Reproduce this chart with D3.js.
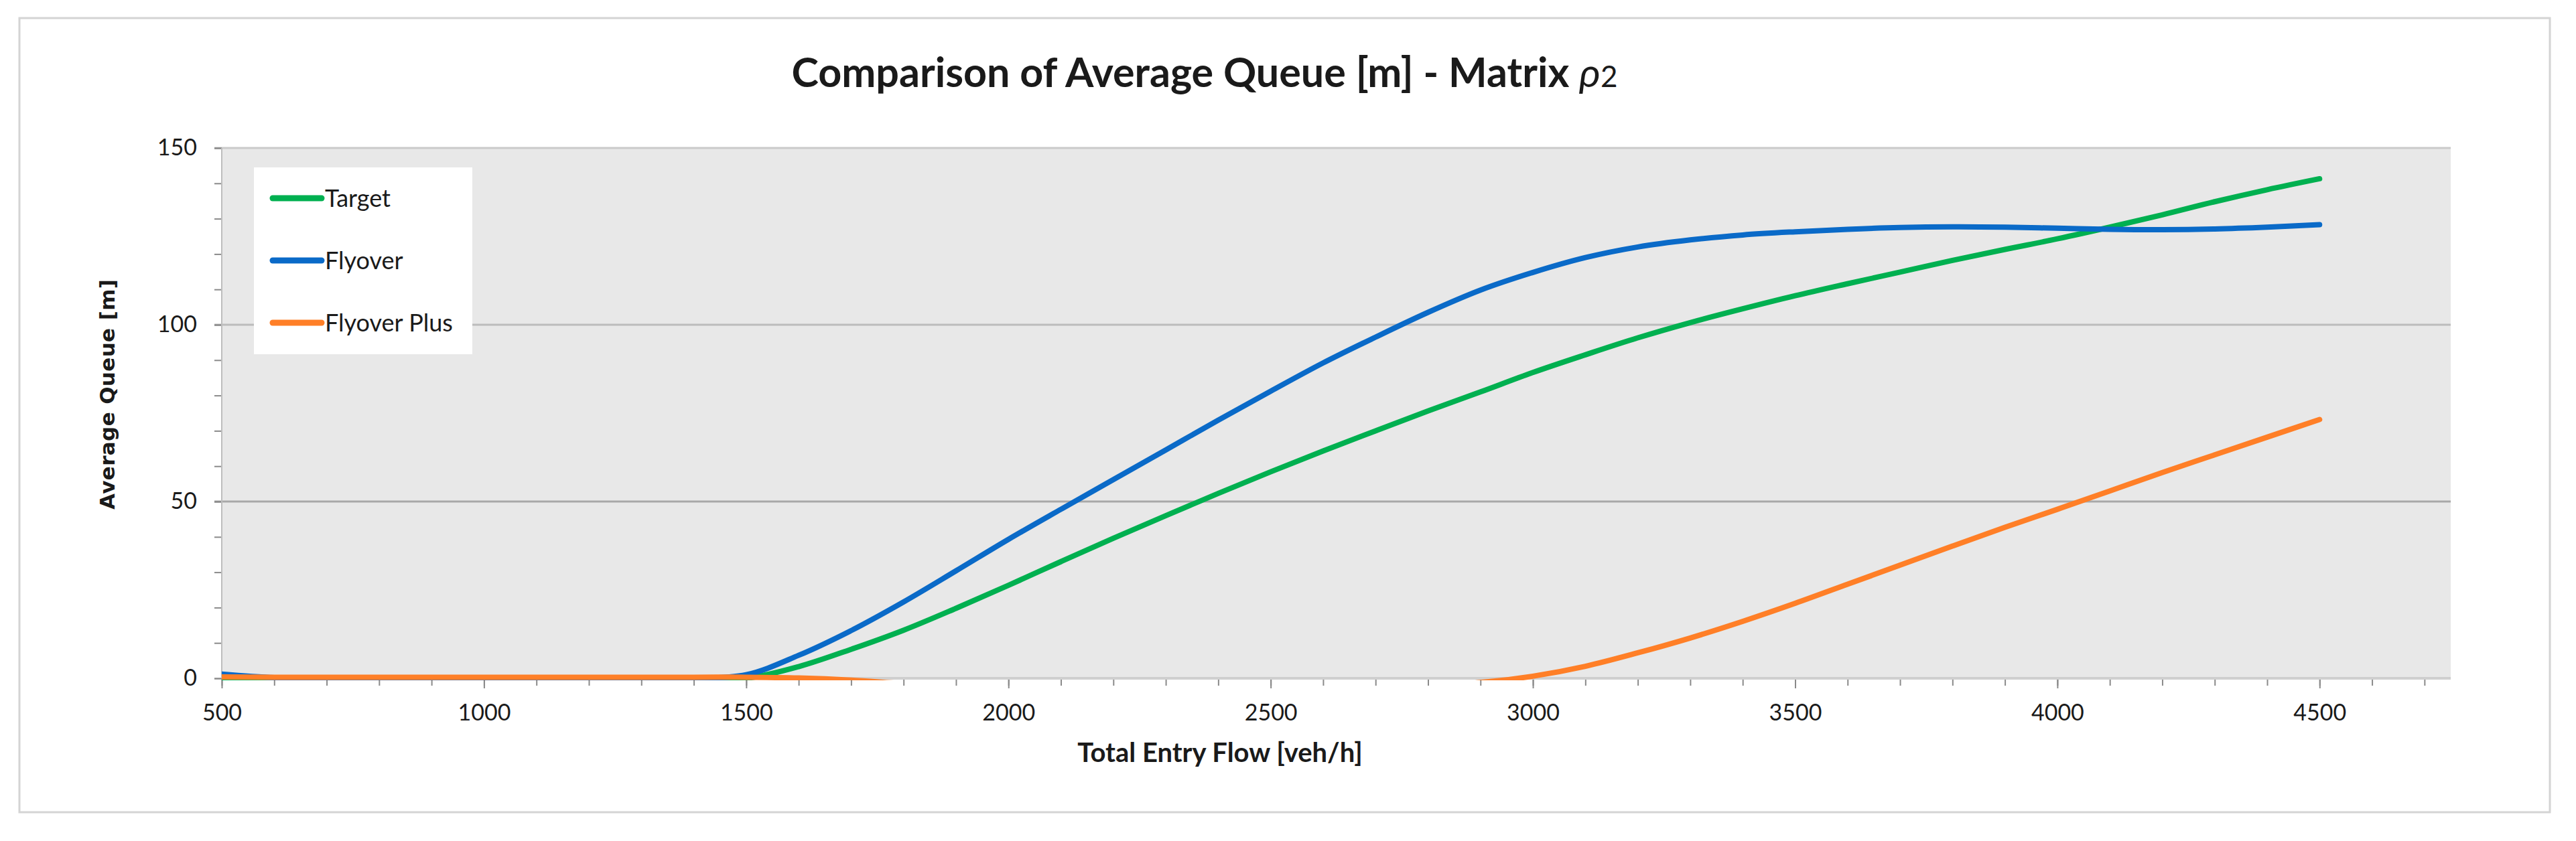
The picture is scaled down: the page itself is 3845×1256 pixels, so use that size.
<!DOCTYPE html>
<html>
<head>
<meta charset="utf-8">
<title>Comparison of Average Queue</title>
<script src="https://cdn.jsdelivr.net/npm/d3@7"></script>
<style>
  body { margin: 0; background: #fff; }
  svg { display: block; }
  text { font-family: Lato, "Open Sans", sans-serif; fill: #1a1a1a; }
</style>
</head>
<body>
<div id="chart"></div>
<script>
// flow values (veh/h) and the three queue series
var flow = [500, 600, 700, 800, 900, 1000, 1100, 1200, 1300, 1400,
  1500, 1600, 1700, 1800, 1900, 2000, 2100, 2200, 2300, 2400,
  2500, 2600, 2700, 2800, 2900, 3000, 3100, 3200, 3300, 3400,
  3500, 3600, 3700, 3800, 3900, 4000, 4100, 4200, 4300, 4400, 4500];

var target = [0, 0, 0, 0, 0, 0, 0, 0, 0, 0,
  0, 3.3, 8.2, 13.6, 19.8, 26.3, 33.0, 39.6, 46.0, 52.3,
  58.4, 64.3, 70.0, 75.6, 81.0, 86.5, 91.5, 96.3, 100.6, 104.5,
  108.2, 111.6, 114.9, 118.2, 121.3, 124.3, 127.6, 131.1, 134.8, 138.2, 141.3];

var flyover = [1.2, 0.2, 0, 0, 0, 0, 0, 0, 0, 0,
  1.0, 6.5, 13.5, 21.6, 30.4, 39.3, 47.8, 56.2, 64.6, 73.0,
  81.2, 89.2, 96.5, 103.5, 109.8, 114.8, 119.0, 122.0, 124.0, 125.4,
  126.3, 127.0, 127.5, 127.7, 127.6, 127.3, 127.0, 126.9, 127.1, 127.6, 128.3];

// the smoothed excel line dips under the axis between ~1700 and ~2900
var flyoverPlus = [0.4, 0.3, 0.3, 0.3, 0.3, 0.3, 0.3, 0.3, 0.3, 0.3,
  0.3, 0.1, -0.5, -1.5, -2.2, -2.6, -2.8, -2.8, -2.8, -2.8,
  -2.7, -2.6, -2.4, -2.0, -1.2, 0.6, 3.4, 7.2, 11.4, 16.1,
  21.2, 26.6, 32.0, 37.4, 42.7, 47.8, 53.0, 58.2, 63.2, 68.2, 73.2];

var seriesNames = ["Target", "Flyover", "Flyover Plus"];
var seriesColors = ["#00b050", "#0a6ac8", "#ff7f27"];
var seriesValues = [target, flyover, flyoverPlus];

var xMinorTicks = [500, 600, 700, 800, 900, 1000, 1100, 1200, 1300, 1400, 1500, 1600,
  1700, 1800, 1900, 2000, 2100, 2200, 2300, 2400, 2500, 2600, 2700, 2800, 2900, 3000,
  3100, 3200, 3300, 3400, 3500, 3600, 3700, 3800, 3900, 4000, 4100, 4200, 4300, 4400,
  4500, 4600, 4700];
var xMajorTicks = [500, 1000, 1500, 2000, 2500, 3000, 3500, 4000, 4500];
var yMinorTicks = [0, 10, 20, 30, 40, 50, 60, 70, 80, 90, 100, 110, 120, 130, 140, 150];
var yMajorTicks = [0, 50, 100, 150];

var W = 3845, H = 1256;
var plotL = 331, plotR = 3658, plotT = 221, plotB = 1013;

var svg = d3.select("#chart").append("svg")
  .attr("width", W)
  .attr("height", H);

// outer frame
svg.append("rect")
  .attr("x", 29).attr("y", 27)
  .attr("width", 3777).attr("height", 1186)
  .attr("fill", "#fff")
  .attr("stroke", "#d4d4d4")
  .attr("stroke-width", 3);

var x = d3.scaleLinear().domain([500, 4750]).range([plotL, plotR]);
var y = d3.scaleLinear().domain([0, 150]).range([plotB, plotT]);

// plot area
svg.append("rect")
  .attr("x", plotL).attr("y", plotT)
  .attr("width", plotR - plotL).attr("height", plotB - plotT)
  .attr("fill", "#e8e8e8");

// gridlines
svg.append("g").selectAll("line")
  .data(yMajorTicks.slice(1))
  .enter().append("line")
  .attr("x1", plotL - 11).attr("x2", plotR)
  .attr("y1", function (d) { return y(d); })
  .attr("y2", function (d) { return y(d); })
  .attr("stroke", function (d) { return d == 50 ? "#a8a8a8" : (d == 100 ? "#bcbcbc" : "#cacaca"); })
  .attr("stroke-width", 3);

// y axis
var yMinor = svg.append("g")
  .attr("transform", "translate(" + plotL + ",0)")
  .call(d3.axisLeft(y).tickValues(yMinorTicks).tickSize(11).tickFormat(""));
var yMajor = svg.append("g")
  .attr("transform", "translate(" + plotL + ",0)")
  .call(d3.axisLeft(y).tickValues(yMajorTicks).tickSize(11).tickPadding(26).tickFormat(d3.format("d")));

// x axis
var xMinor = svg.append("g")
  .attr("transform", "translate(0," + plotB + ")")
  .call(d3.axisBottom(x).tickValues(xMinorTicks).tickSize(11).tickFormat(""));
var xMajor = svg.append("g")
  .attr("transform", "translate(0," + plotB + ")")
  .call(d3.axisBottom(x).tickValues(xMajorTicks).tickSize(15).tickPadding(24).tickFormat(d3.format("d")));

[yMinor, yMajor, xMinor, xMajor].forEach(function (g) {
  g.select(".domain").remove();
  g.selectAll(".tick line").attr("stroke", "#8a8a8a").attr("stroke-width", 2);
  g.selectAll(".tick text")
    .style("font-family", "Lato, 'Open Sans', sans-serif")
    .style("font-size", "34px")
    .attr("fill", "#262626");
});

svg.append("line")
  .attr("x1", plotL).attr("x2", plotL)
  .attr("y1", plotT).attr("y2", plotB)
  .attr("stroke", "#bdbdbd").attr("stroke-width", 2);
svg.append("line")
  .attr("x1", plotL).attr("x2", plotR)
  .attr("y1", plotB).attr("y2", plotB)
  .attr("stroke", "#cfcfcf").attr("stroke-width", 4);

// lines
svg.append("clipPath").attr("id", "plotclip")
  .append("rect")
  .attr("x", plotL).attr("y", plotT - 10)
  .attr("width", plotR - plotL).attr("height", plotB - plotT + 13);

var line = d3.line()
  .x(function (d) { return x(d[0]); })
  .y(function (d) { return y(d[1]); })
  .curve(d3.curveCatmullRom);

svg.append("g").attr("clip-path", "url(#plotclip)")
  .selectAll("path")
  .data(seriesValues)
  .enter().append("path")
  .attr("d", function (vals) {
    return line(flow.map(function (f, i) { return [f, vals[i]]; }));
  })
  .attr("fill", "none")
  .attr("stroke", function (d, i) { return seriesColors[i]; })
  .attr("stroke-width", 8)
  .attr("stroke-linecap", "round")
  .attr("stroke-linejoin", "round");

// legend
var legend = svg.append("g");
legend.append("rect")
  .attr("x", 379).attr("y", 250)
  .attr("width", 326).attr("height", 279)
  .attr("fill", "#fff");
var item = legend.selectAll(".item")
  .data(seriesNames)
  .enter().append("g")
  .attr("transform", function (d, i) { return "translate(0," + (296 + i * 93) + ")"; });
item.append("line")
  .attr("x1", 407).attr("x2", 480)
  .attr("stroke", function (d, i) { return seriesColors[i]; })
  .attr("stroke-width", 9)
  .attr("stroke-linecap", "round");
item.append("text")
  .attr("x", 485).attr("y", 13)
  .style("font-size", "36px")
  .text(function (d) { return d; });

// titles
var title = svg.append("text")
  .attr("x", 1798).attr("y", 130)
  .attr("text-anchor", "middle")
  .style("font-size", "61px")
  .style("font-weight", "bold");
title.append("tspan").text("Comparison of Average Queue [m] - Matrix ");
title.append("tspan").style("font-style", "italic").style("font-weight", "normal").text("ρ");
title.append("tspan").style("font-weight", "normal").style("font-size", "44px").text("2");

svg.append("text")
  .attr("x", 1821).attr("y", 1138)
  .attr("text-anchor", "middle")
  .style("font-size", "40px")
  .style("font-weight", "bold")
  .text("Total Entry Flow [veh/h]");

svg.append("text")
  .attr("transform", "translate(171,589) rotate(-90)")
  .attr("text-anchor", "middle")
  .attr("textLength", 344)
  .attr("lengthAdjust", "spacing")
  .style("font-family", "'DejaVu Sans', Verdana, sans-serif")
  .style("font-size", "31px")
  .style("font-weight", "bold")
  .text("Average Queue [m]");
</script>
</body>
</html>
